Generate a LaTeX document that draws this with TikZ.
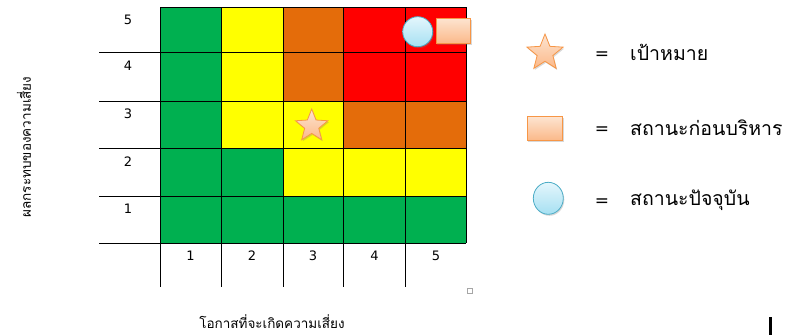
\documentclass[tikz,border=0pt]{standalone}
\usepackage{fontspec}
\newfontfamily\thai[Script=Thai]{Loma}
\newfontfamily\numfont{DejaVu Sans}
\usetikzlibrary{shapes.geometric,shadows}
\definecolor{cgreen}{HTML}{00B050}
\definecolor{cyellow}{HTML}{FFFF00}
\definecolor{corange}{HTML}{E46C0A}
\definecolor{cred}{HTML}{FF0000}
\definecolor{peachtop}{HTML}{FDE4D0}
\definecolor{peachbot}{HTML}{FBB98A}
\definecolor{peachline}{HTML}{F79646}
\definecolor{bluetop}{HTML}{E4F6FC}
\definecolor{bluebot}{HTML}{A6E0F2}
\definecolor{blueline}{HTML}{4BACC6}
\tikzset{
  cell/.style={draw=black, line width=0.8pt},
  gridline/.style={draw=black, line width=0.8pt},
  numlab/.style={font=\numfont\fontsize{13}{15}\selectfont, inner sep=0},
  eqlab/.style={font=\numfont\fontsize{17}{19}\selectfont, inner sep=0},
  legtext/.style={font=\thai\fontsize{19.5}{22}\selectfont, anchor=west, inner sep=0},
  axislab/.style={font=\thai\fontsize{13.5}{15}\selectfont, inner sep=0},
  peach/.style={draw=peachline, line width=0.8pt, top color=peachtop, bottom color=peachbot,
    drop shadow={shadow xshift=1pt, shadow yshift=-1.5pt, opacity=0.3}},
  bluec/.style={draw=blueline, line width=0.8pt, top color=bluetop, bottom color=bluebot,
    drop shadow={shadow xshift=1pt, shadow yshift=-1.5pt, opacity=0.3}},
  starshape/.style={star, star points=5, star point ratio=2.3, inner sep=0, peach},
}
\begin{document}
\begin{tikzpicture}[x=1pt,y=-1pt]
\useasboundingbox[fill=white] (0,0) rectangle (807,335);
\def\xa{160}\def\xb{221}\def\xc{283}\def\xd{343.5}\def\xe{405.5}\def\xf{466}
\def\ya{7.3}\def\yb{52.5}\def\yc{101}\def\yd{148.3}\def\ye{196}\def\yf{243.3}
% row 5
\fill[cgreen]  (\xa,\ya) rectangle (\xb,\yb);
\fill[cyellow] (\xb,\ya) rectangle (\xc,\yb);
\fill[corange] (\xc,\ya) rectangle (\xd,\yb);
\fill[cred]    (\xd,\ya) rectangle (\xf,\yb);
% row 4
\fill[cgreen]  (\xa,\yb) rectangle (\xb,\yc);
\fill[cyellow] (\xb,\yb) rectangle (\xc,\yc);
\fill[corange] (\xc,\yb) rectangle (\xd,\yc);
\fill[cred]    (\xd,\yb) rectangle (\xf,\yc);
% row 3
\fill[cgreen]  (\xa,\yc) rectangle (\xb,\yd);
\fill[cyellow] (\xb,\yc) rectangle (\xd,\yd);
\fill[corange] (\xd,\yc) rectangle (\xf,\yd);
% row 2
\fill[cgreen]  (\xa,\yd) rectangle (\xc,\ye);
\fill[cyellow] (\xc,\yd) rectangle (\xf,\ye);
% row 1
\fill[cgreen]  (\xa,\ye) rectangle (\xf,\yf);
% grid lines
\draw[gridline] (\xa,\ya) -- (\xf,\ya);
\foreach \yy in {\yb,\yc,\yd,\ye,\yf} \draw[gridline] (99,\yy) -- (\xf,\yy);
\foreach \xx in {\xa,\xb,\xc,\xd,\xe} \draw[gridline] (\xx,\ya) -- (\xx,287);
\draw[gridline] (\xf,\ya) -- (\xf,\yf);
% row labels
\node[numlab] (r5) at (128,20) {5};
\node[numlab] (r4) at (128,66) {4};
\node[numlab] (r3) at (128,114) {3};
\node[numlab] (r2) at (128,162) {2};
\node[numlab] (r1) at (128,209) {1};
% column labels
\node[numlab] (c1) at (190.5,256) {1};
\node[numlab] (c2) at (252,256) {2};
\node[numlab] (c3) at (313,256) {3};
\node[numlab] (c4) at (374.5,256) {4};
\node[numlab] (c5) at (436,256) {5};
% markers in grid
\node[starshape, minimum size=34pt] (target) at (311.7,126) {};
\node[bluec, circle, minimum width=30pt, minimum height=30pt, inner sep=0] (current) at (417.7,31.7) {};
\node[peach, rectangle, minimum width=34.5pt, minimum height=25pt, inner sep=0] (before) at (453.3,30.8) {};
% small square
\node[draw=gray!70, line width=0.5pt, minimum size=5pt, inner sep=0] (sq) at (469.5,290.5) {};
% legend
\node[starshape, minimum size=38pt] (lstar) at (545,53) {};
\node[eqlab] (eq1) at (602,56) {=};
\node[legtext] (t1) at (630,52) {เป้าหมาย};
\node[peach, rectangle, minimum width=35.5pt, minimum height=23.5pt, inner sep=0] (lrect) at (545,128.3) {};
\node[eqlab] (eq2) at (602,131) {=};
\node[legtext] (t2) at (630,128) {สถานะก่อนบริหาร};
\node[bluec, ellipse, minimum width=30pt, minimum height=32pt, inner sep=0] (lcirc) at (548.3,198.3) {};
\node[eqlab] (eq3) at (602,203) {=};
\node[legtext] (t3) at (630,200) {สถานะปัจจุบัน};
% axis labels
\node[axislab, rotate=90] (ylab) at (24,147) {ผลกระทบของความเสี่ยง};
\node[axislab] (xlab) at (272,322) {โอกาสที่จะเกิดความเสี่ยง};
% cursor bar
\coordinate (bar1) at (770.5,317);
\coordinate (bar2) at (770.5,335);
\draw[line width=2.5pt, black] (bar1) -- (bar2);
\end{tikzpicture}
\end{document}
